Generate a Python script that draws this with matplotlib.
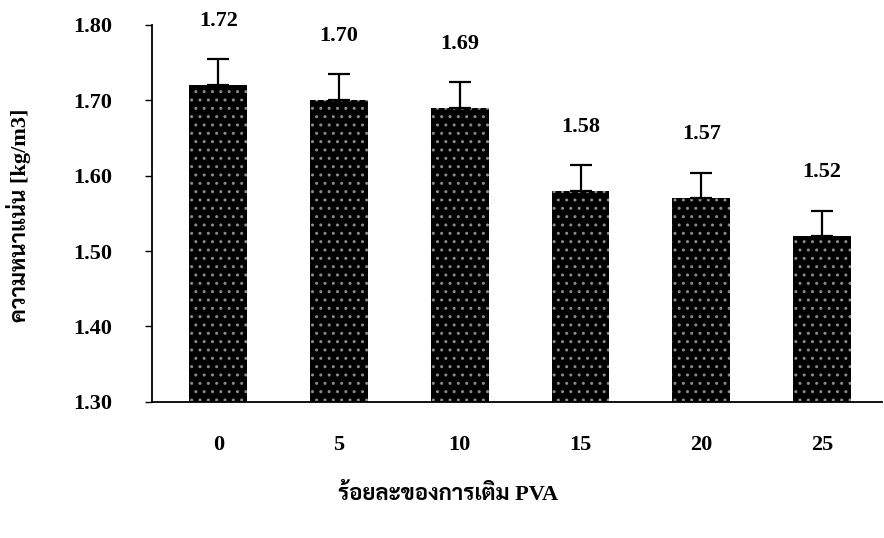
import matplotlib
matplotlib.use("Agg")
import matplotlib.pyplot as plt
import numpy as np

pva = ["0", "5", "10", "15", "20", "25"]
density = [1.72, 1.70, 1.69, 1.58, 1.57, 1.52]
sd = [0.035, 0.035, 0.034, 0.034, 0.034, 0.033]

font = ['Liberation Serif', 'Sarabun']
plt.rcParams['font.family'] = font
plt.rcParams['font.weight'] = 'bold'

fig = plt.figure(figsize=(8.84, 5.38), dpi=100)
ax = fig.add_axes([0.172, 0.253, 0.826, 0.701])

x = np.arange(len(pva))
# black bars with a faint grey dot pattern, like the scanned figure
ax.bar(x, np.array(density) - 1.30, bottom=1.30, width=0.48, color='black',
       edgecolor='#8a8a8a', hatch='..', linewidth=0)
ax.errorbar(x, density, yerr=[[0] * len(sd), sd], fmt='none', ecolor='black',
            elinewidth=1.6, capsize=8, capthick=1.6)

for xi, v in zip(x, density):
    ax.text(xi, v + 0.085, f"{v:.2f}", ha='center', va='center',
            fontsize=16, fontweight='bold', clip_on=False)

ax.set_ylim(1.30, 1.80)
ax.set_xlim(-0.55, 5.5)
ax.set_yticks(np.arange(1.30, 1.81, 0.10))
ax.set_yticklabels([f"{t:.2f}" for t in np.arange(1.30, 1.81, 0.10)])
ax.set_xticks(x)
ax.set_xticklabels(pva)
ax.tick_params(axis='y', length=5, width=1, pad=24, labelsize=16)
ax.tick_params(axis='x', length=0, pad=24, labelsize=16)

for s in ['top', 'right']:
    ax.spines[s].set_visible(False)
ax.spines['left'].set_linewidth(1.3)
ax.spines['bottom'].set_linewidth(1.3)

fig.text(0.021, 0.60, "ความหนาแน่น [kg/m3]", rotation=90, ha='center', va='center',
         fontsize=16, fontweight='bold')
fig.text(0.507, 0.08, "ร้อยละของการเติม PVA", ha='center', va='center',
         fontsize=16, fontweight='bold')

fig.savefig("out.png")
